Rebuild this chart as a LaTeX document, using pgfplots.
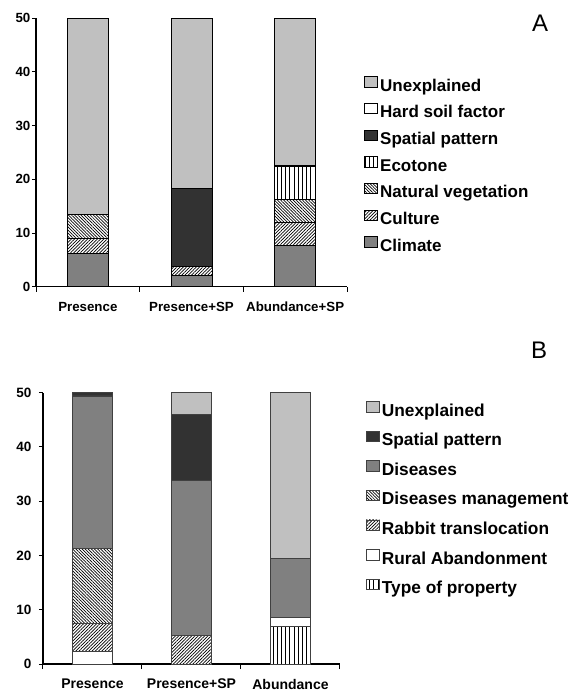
\documentclass[border=0pt]{standalone}
\usepackage{fontspec}
\setmainfont{Liberation Sans}
\usepackage{pgfplots}
\pgfplotsset{compat=1.18}
\usetikzlibrary{patterns,patterns.meta}
\pgfdeclarepatternformonly{myvlines}{\pgfqpoint{-1pt}{-1pt}}{\pgfqpoint{1pt}{5pt}}{\pgfqpoint{4.2pt}{4pt}}{%
  \pgfsetlinewidth{0.8pt}\pgfpathmoveto{\pgfqpoint{0pt}{-1pt}}\pgfpathlineto{\pgfqpoint{0pt}{5pt}}\pgfusepath{stroke}}
\definecolor{unexp}{RGB}{192,192,192}
\definecolor{midg}{RGB}{128,128,128}
\definecolor{darkg}{RGB}{50,50,50}
\pgfplotsset{
  hatchNE/.style={fill=white, postaction={pattern={Lines[angle=45,distance=2.3pt,line width=0.7pt]}}},
  hatchNW/.style={fill=white, postaction={pattern={Lines[angle=-45,distance=2.2pt,line width=0.7pt]}}},
  hatchV/.style={fill=white, postaction={pattern=myvlines}},
  myaxis/.style={
    scale only axis, ybar stacked, anchor=south west,
    xmin=0, xmax=3, ymin=0, ymax=50, enlargelimits=false,
    axis x line*=bottom, axis y line*=left,
    axis line style={-, line width=1.2pt, black},
    ytick={0,10,...,50}, yticklabels={0,10,20,30,40,50}, tick align=outside,
    xtick={0.5,1.5,2.5}, minor xtick={0,1,2,3},
    major x tick style={draw=none},
    minor x tick style={black, line width=1pt},
    y tick style={black, line width=1pt},
    major tick length=4pt, minor tick length=5pt,
    legend reversed, legend cell align=left,
    legend image code/.code={\draw[##1] (0pt,0pt) rectangle (13pt,10.5pt);},
  },
}
\begin{document}
\begin{tikzpicture}
\path[use as bounding box] (0,0) rectangle (580pt,691pt);
% Panel A
\begin{axis}[myaxis, at={(36pt,404.3pt)}, width=311pt, height=268.4pt, bar width=41pt,
  every axis plot/.append style={draw=black, line width=1pt},
  xticklabels={Presence, Presence+SP, Abundance+SP},
  xticklabel style={font=\fontsize{13.3}{14}\selectfont\bfseries, inner sep=0pt, anchor=north, yshift=-11pt},
  yticklabel style={font=\fontsize{13.3}{14}\selectfont\bfseries, inner sep=0pt, anchor=east, xshift=-1.5pt},
  legend style={at={(1.045,0.7925)}, anchor=north west, draw=none, fill=none,
    font=\fontsize{17}{17}\selectfont\bfseries, row sep=7.7pt, column sep=2pt,
    nodes={inner sep=0pt, text height=12pt, text depth=4pt}},
]
\addplot[fill=midg] coordinates {(0.5,6.2) (1.5,2.0) (2.5,7.6)};
\addlegendentry{Climate}
\addplot[hatchNE] coordinates {(0.5,2.8) (1.5,1.7) (2.5,4.4)};
\addlegendentry{Culture}
\addplot[hatchNW] coordinates {(0.5,4.5) (1.5,0) (2.5,4.3)};
\addlegendentry{Natural vegetation}
\addplot[hatchV] coordinates {(0.5,0) (1.5,0) (2.5,6.0)};
\addlegendentry{Ecotone}
\addplot[fill=darkg] coordinates {(0.5,0) (1.5,14.5) (2.5,0.2)};
\addlegendentry{Spatial pattern}
\addplot[fill=white] coordinates {(0.5,0) (1.5,0) (2.5,0)};
\addlegendentry{Hard soil factor}
\addplot[fill=unexp] coordinates {(0.5,36.5) (1.5,31.8) (2.5,27.5)};
\addlegendentry{Unexplained}
\end{axis}
% Panel B
\begin{axis}[myaxis, at={(43pt,27pt)}, width=297pt, height=271.3pt, bar width=40pt,
  every axis plot/.append style={draw=black!75, line width=0.8pt},
  xticklabels={Presence, Presence+SP, Abundance},
  xticklabel style={font=\fontsize{14}{15}\selectfont\bfseries, inner sep=0pt, anchor=north, yshift=-11pt},
  yticklabel style={font=\fontsize{13.5}{14}\selectfont\bfseries, inner sep=0pt, anchor=east, xshift=-7.5pt},
  legend style={at={(1.077,0.977)}, anchor=north west, draw=none, fill=none,
    font=\fontsize{17.3}{17}\selectfont\bfseries, row sep=10.7pt, column sep=2pt,
    nodes={inner sep=0pt, text height=12pt, text depth=4pt}},
]
\addplot[hatchV] coordinates {(0.5,0) (1.5,0) (2.5,7.0)};
\addlegendentry{Type of property}
\addplot[fill=white] coordinates {(0.5,2.3) (1.5,0) (2.5,1.6)};
\addlegendentry{Rural Abandonment}
\addplot[hatchNE] coordinates {(0.5,5.2) (1.5,5.3) (2.5,0)};
\addlegendentry{Rabbit translocation}
\addplot[hatchNW] coordinates {(0.5,13.8) (1.5,0) (2.5,0)};
\addlegendentry{Diseases management}
\addplot[fill=midg] coordinates {(0.5,28.1) (1.5,28.5) (2.5,10.9)};
\addlegendentry{Diseases}
\addplot[fill=darkg] coordinates {(0.5,0.6) (1.5,12.2) (2.5,0)};
\addlegendentry{Spatial pattern}
\addplot[fill=unexp] coordinates {(0.5,0) (1.5,4.0) (2.5,30.5)};
\addlegendentry{Unexplained}
\end{axis}
\node[font=\fontsize{24}{24}\selectfont] at (540pt,668pt) {A};
\node[font=\fontsize{24}{24}\selectfont] at (539pt,341pt) {B};
\end{tikzpicture}
\end{document}
